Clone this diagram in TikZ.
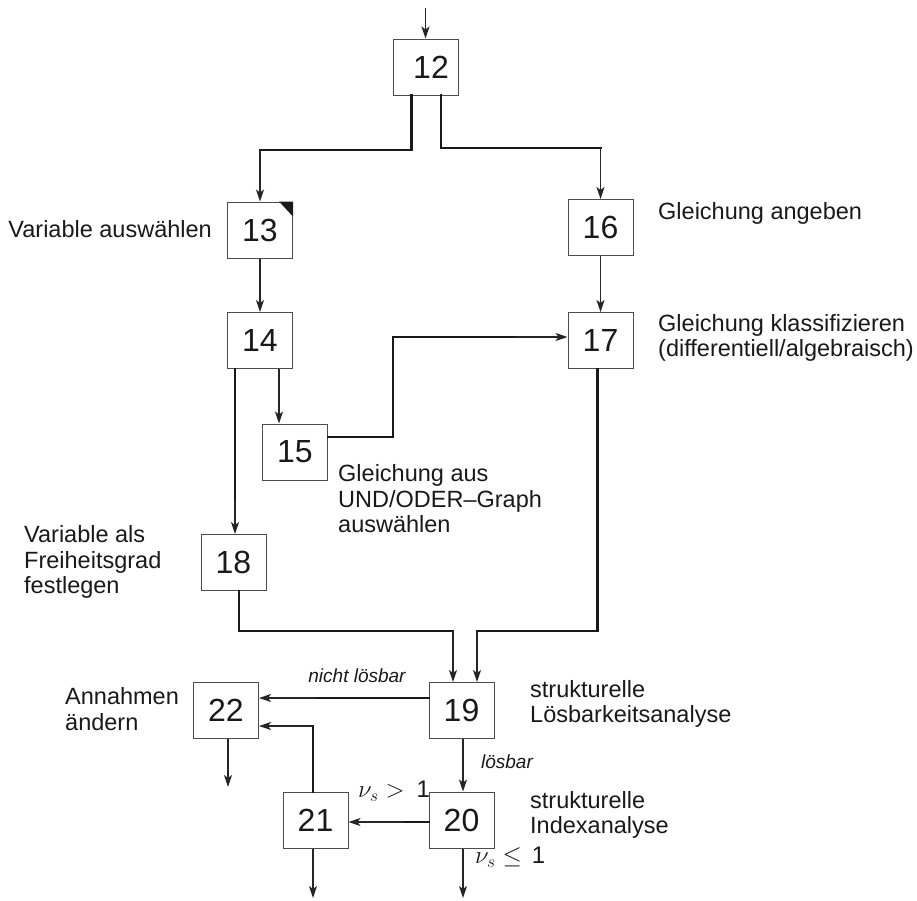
\documentclass[tikz,border=0pt]{standalone}
\usepackage{fontspec}
\setmainfont{Liberation Sans}
\usetikzlibrary{arrows.meta}
\begin{document}
\begin{tikzpicture}[x=1pt,y=-1pt,
  box/.style={draw=black!70, line width=1pt, minimum width=65pt, minimum height=56pt,
    inner sep=0pt, font=\fontsize{32}{35}\selectfont, text=black!90},
  lbl/.style={font=\fontsize{23.5}{25.5}\selectfont, align=left, inner sep=0pt, text=black!90},
  tag/.style={font=\fontsize{19}{21}\selectfont\itshape, inner sep=0pt, text=black!90},
  cond/.style={font=\fontsize{24}{26}\selectfont, inner sep=0pt, text=black!90},
  heavy/.style={line width=2.4pt, draw=black!90, line cap=rect},
  light/.style={line width=1.4pt, draw=black!85,
    -{Stealth[length=12pt,width=8pt,inset=3pt]}},
]
\useasboundingbox (0,0) rectangle (917,900);

% process steps
\node[box] (b12) at (425.5,67) {\hspace*{11pt}12};
\node[box] (b13) at (260,230) {13};
\node[box] (b16) at (600.5,227.5) {16};
\node[box] (b14) at (260,340.5) {14};
\node[box] (b17) at (600.5,340.5) {17};
\node[box] (b15) at (295,452) {15};
\node[box] (b18) at (233.5,562.5) {18};
\node[box] (b19) at (461.5,710.5) {19};
\node[box] (b22) at (226,710.5) {22};
\node[box] (b21) at (315.5,820) {21};
\node[box] (b20) at (461.5,820) {20};

% marker in the corner of step 13
\fill[black!90] (b13.north east) -- ([xshift=-14pt]b13.north east)
  -- ([yshift=-15pt]b13.north east) -- cycle;

% step descriptions
\node[lbl, anchor=east] (t13) at (212,229) {Variable auswählen};
\node[lbl, anchor=west] (t16) at (658,213) {Gleichung angeben};
\node[lbl, anchor=west] (t17) at (658,338) {Gleichung klassifizieren\\(differentiell/algebraisch)};
\node[lbl, anchor=west] (t15) at (338,499) {Gleichung aus\\UND/ODER--Graph\\auswählen};
\node[lbl, anchor=west] (t18) at (24,562) {Variable als\\Freiheitsgrad\\festlegen};
\node[lbl, anchor=west] (t22) at (65,709) {Annahmen\\ändern};
\node[lbl, anchor=west] (t19) at (530,704) {strukturelle\\Lösbarkeitsanalyse};
\node[lbl, anchor=west] (t20) at (530,815) {strukturelle\\Indexanalyse};

% branch conditions
\node[tag] (nl) at (357,676) {nicht lösbar};
\node[tag] (lb) at (507,762) {lösbar};
\node[cond, anchor=west] (gt) at (358,791) {$\nu_s >$\hspace{12pt}1};
\node[cond, anchor=west] (le) at (475,857) {$\nu_s \leq$\hspace{10pt}1};

% entry into 12
\coordinate (in12) at (425.5,8);
\draw[light] (in12) -- (b12.north);

% 12 -> 13
\coordinate (s13) at ([xshift=-14pt]b12.south);
\coordinate (k13) at (b13.north |- 0,150);
\draw[heavy] (s13) |- (k13);
\draw[light] (k13) -- (b13.north);

% 12 -> 16
\coordinate (s16) at ([xshift=15.5pt]b12.south);
\coordinate (k16) at (b16.north |- 0,148);
\draw[heavy] (s16) |- (k16);
\draw[light] (k16) -- (b16.north);

% 13 -> 14, 16 -> 17
\draw[light] (b13.south) -- (b14.north);
\draw[light] (b16.south) -- (b17.north);

% 14 -> 15
\coordinate (s15) at ([xshift=19pt]b14.south);
\draw[light] (s15) -- (s15 |- b15.north);

% 15 -> 17
\coordinate (s17) at ([yshift=15pt]b15.east);
\coordinate (k17) at (515,337);
\draw[heavy] (s17) -| (393,337) -- (k17);
\draw[light] (k17) -- (k17 -| b17.west);

% 14 -> 18
\coordinate (s18) at ([xshift=-25pt]b14.south);
\coordinate (k18) at (s18 |- 0,500);
\draw[heavy] (s18) -- (k18);
\draw[light] (k18) -- (k18 |- b18.north);

% 18 -> 19
\coordinate (t19a) at ([xshift=-8.5pt]b19.north);
\coordinate (k19a) at (t19a |- 0,631);
\draw[heavy] ([xshift=5.5pt]b18.south) |- (k19a);
\draw[light] (k19a) -- (t19a);

% 17 -> 19
\coordinate (t19b) at ([xshift=15.5pt]b19.north);
\coordinate (k19b) at (t19b |- 0,631);
\draw[heavy] ([xshift=-3pt]b17.south) |- (k19b);
\draw[light] (k19b) -- (t19b);

% 19 -> 22 (nicht lösbar)
\coordinate (s22) at ([yshift=12.5pt]b19.west);
\coordinate (k22) at (s22 -| 317,0);
\draw[heavy] (s22) -- (k22);
\draw[light] (k22) -- (k22 -| b22.east);

% 19 -> 20 (lösbar)
\draw[light] ([xshift=1.5pt]b19.south) -- ([xshift=1.5pt]b20.north);

% 20 -> 21
\coordinate (s21) at ([yshift=-2pt]b20.west);
\coordinate (k21) at (s21 -| 403,0);
\draw[heavy] (s21) -- (k21);
\draw[light] (k21) -- (k21 -| b21.east);

% 21 -> 22
\coordinate (s21u) at ([xshift=-2.5pt]b21.north);
\coordinate (k21u) at (s21u |- 0,726);
\draw[heavy] (s21u) -- (k21u);
\draw[light] (k21u) -- (k21u -| b22.east);

% exits
\coordinate (o22) at (228,787);
\draw[light] (o22 |- b22.south) -- (o22);
\coordinate (o21) at (313,898);
\draw[light] (o21 |- b21.south) -- (o21);
\coordinate (o20) at (463,898);
\draw[light] (o20 |- b20.south) -- (o20);
\end{tikzpicture}
\end{document}
